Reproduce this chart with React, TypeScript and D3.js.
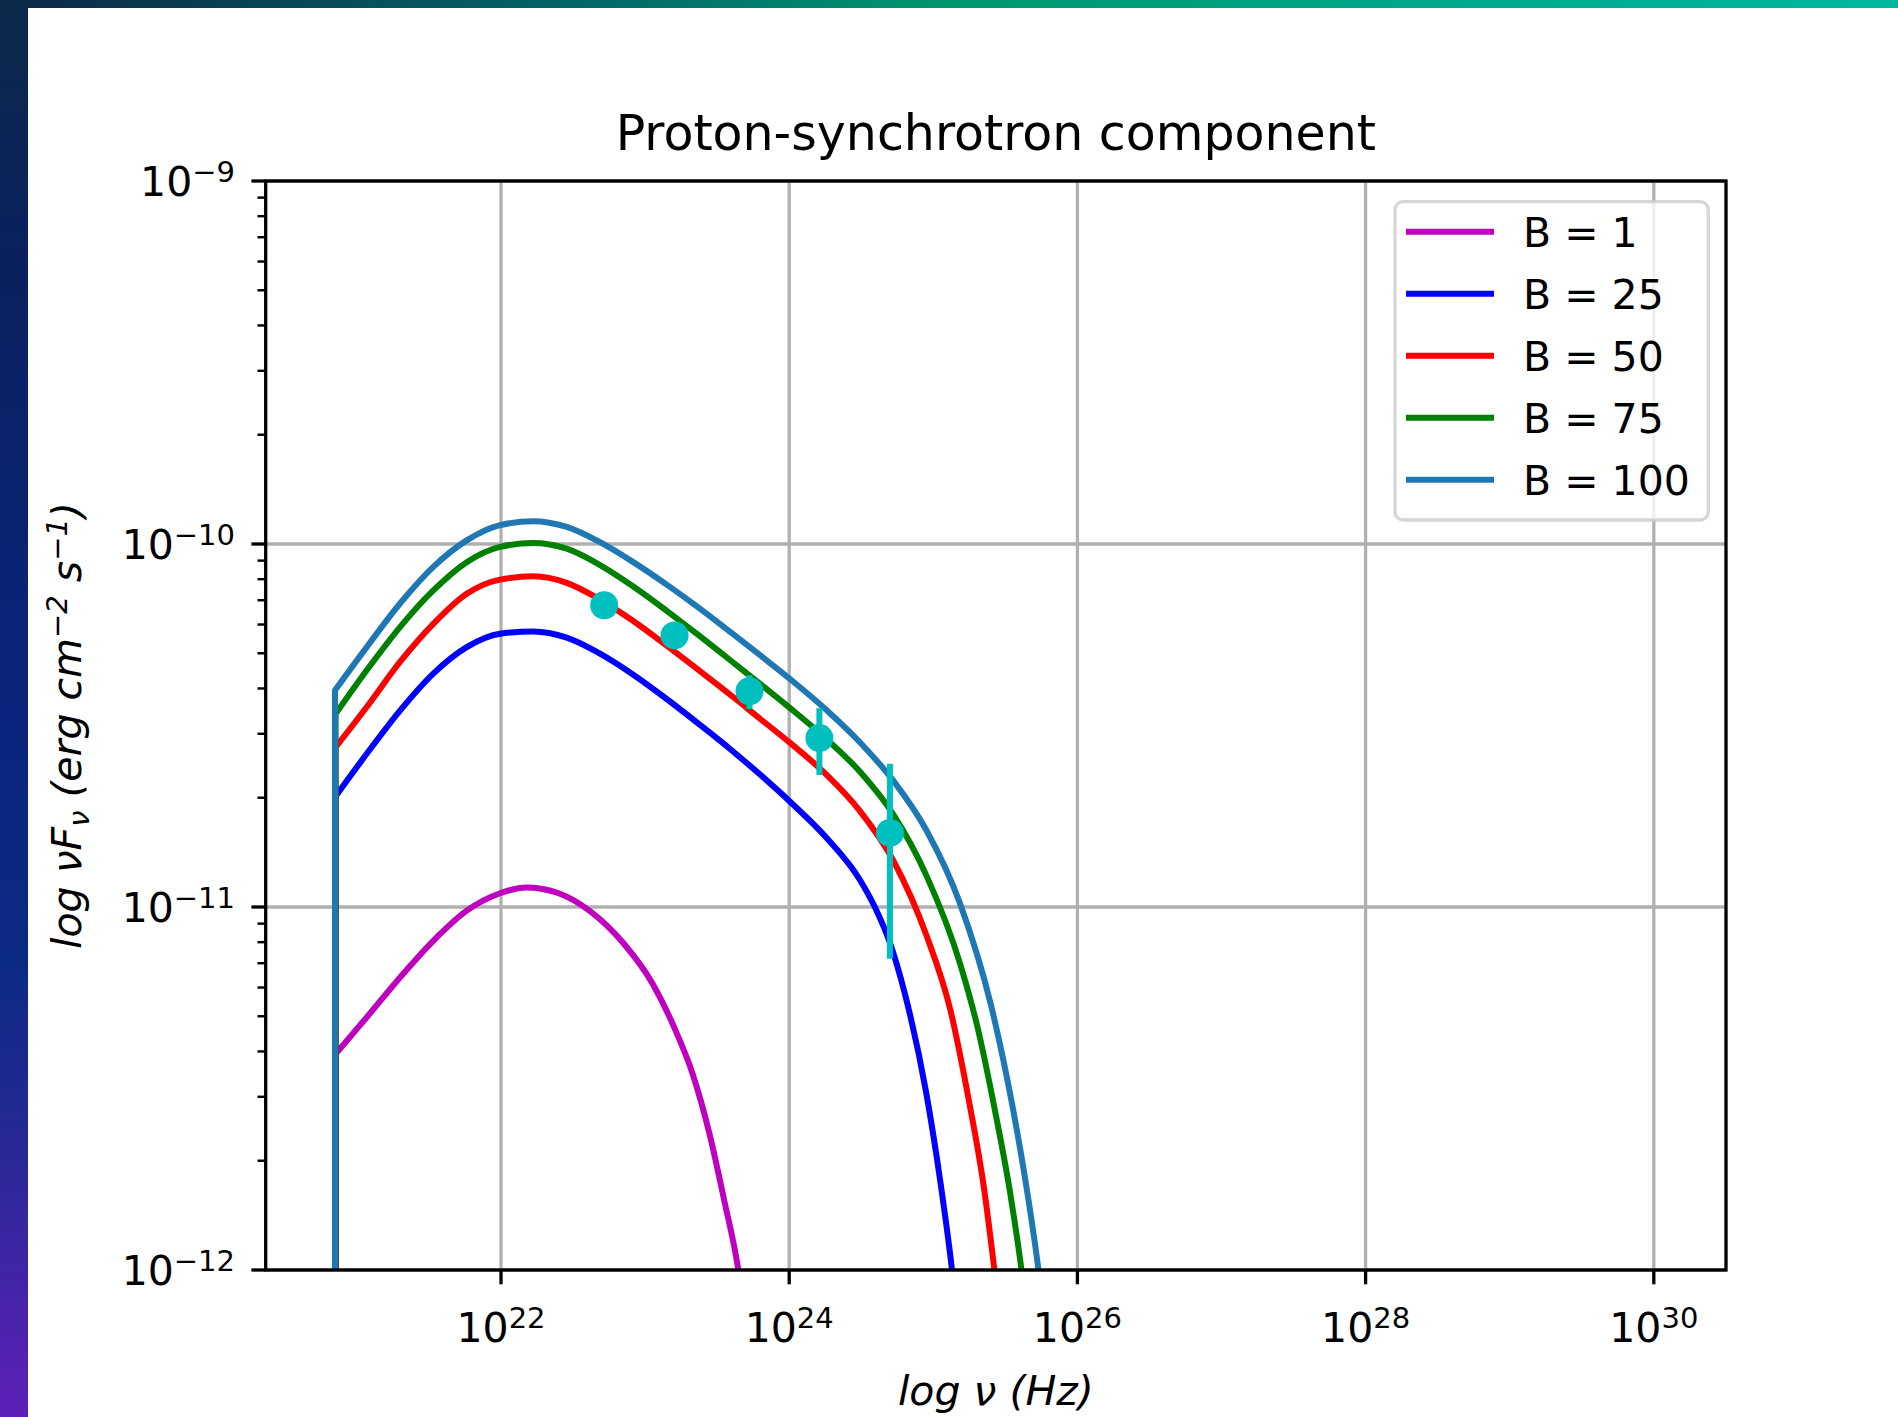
import React from 'react';
import * as d3 from 'd3';

// Canvas and plotting rectangle
const W = 1898;
const H = 1417;
const PLOT = { left: 265.7, right: 1726, top: 181, bottom: 1270 };
const FONT = '"DejaVu Sans", "Liberation Sans", sans-serif';

// Samples of each model spectrum: [log10 nu (Hz), log10 nuF_nu (erg cm^-2 s^-1)]
const curveB1: [number, number][] = [
  [20.852, -11.405], [21.068, -11.304], [21.299, -11.194], [21.53, -11.093], [21.762, -11.01],
  [21.993, -10.962], [22.178, -10.946], [22.4, -10.962], [22.62, -11.012], [22.85, -11.1],
  [23.05, -11.21], [23.2, -11.33], [23.33, -11.46], [23.45, -11.63], [23.55, -11.81],
  [23.647, -12.0], [23.72, -12.22],
];
const curveB25: [number, number][] = [
  [20.852, -10.695], [21.068, -10.578], [21.299, -10.459], [21.53, -10.357], [21.762, -10.284],
  [21.993, -10.247], [22.224, -10.241], [22.456, -10.258], [22.687, -10.302], [22.918, -10.36],
  [23.15, -10.427], [23.38, -10.498], [23.6, -10.568], [23.8, -10.636], [24.006, -10.71],
  [24.26, -10.81], [24.49, -10.925], [24.6, -11.005], [24.7, -11.1], [24.8, -11.235],
  [24.95, -11.51], [25.05, -11.76], [25.13, -12.0], [25.2, -12.26],
];
const curveB50: [number, number][] = [
  [20.852, -10.56], [21.068, -10.449], [21.299, -10.325], [21.53, -10.22], [21.762, -10.137],
  [21.993, -10.098], [22.224, -10.089], [22.456, -10.107], [22.687, -10.153], [22.918, -10.212],
  [23.15, -10.28], [23.38, -10.35], [23.6, -10.418], [23.8, -10.482], [24.006, -10.548],
  [24.26, -10.636], [24.49, -10.735], [24.722, -10.872], [24.954, -11.08], [25.116, -11.28],
  [25.25, -11.54], [25.35, -11.77], [25.424, -12.0], [25.5, -12.27],
];
const curveB75: [number, number][] = [
  [20.852, -10.468], [21.068, -10.348], [21.299, -10.229], [21.53, -10.128], [21.762, -10.05],
  [21.993, -10.008], [22.224, -9.997], [22.456, -10.013], [22.687, -10.058], [22.918, -10.117],
  [23.15, -10.184], [23.38, -10.254], [23.6, -10.323], [23.8, -10.386], [24.006, -10.452],
  [24.209, -10.52], [24.49, -10.627], [24.722, -10.745], [24.954, -10.915], [25.185, -11.155],
  [25.3, -11.32], [25.43, -11.565], [25.53, -11.78], [25.612, -12.0], [25.685, -12.25],
];
const curveB100: [number, number][] = [
  [20.848, -10.403], [21.068, -10.284], [21.299, -10.164], [21.53, -10.063], [21.762, -9.99],
  [21.993, -9.948], [22.224, -9.937], [22.456, -9.953], [22.687, -9.995], [22.918, -10.05],
  [23.15, -10.112], [23.38, -10.178], [23.6, -10.245], [23.8, -10.307], [24.006, -10.372],
  [24.26, -10.458], [24.49, -10.546], [24.722, -10.652], [24.954, -10.79], [25.185, -10.99],
  [25.4, -11.27], [25.55, -11.55], [25.65, -11.78], [25.73, -12.0], [25.8, -12.24],
];

const seriesCurves = [curveB1, curveB25, curveB50, curveB75, curveB100];
const seriesLabels = ['B = 1', 'B = 25', 'B = 50', 'B = 75', 'B = 100'];
const seriesColors = ['#bf00bf', '#0000ff', '#ff0000', '#008000', '#1f77b4'];

// Observed fluxes with symmetric errors
const obsNu = [5.2e22, 1.6e23, 5.3e23, 1.62e24, 5.0e24];
const obsFlux = [6.78e-11, 5.6e-11, 3.93e-11, 2.92e-11, 1.6e-11];
const obsErr = [0.25e-11, 0.3e-11, 0.42e-11, 0.61e-11, 0.88e-11];
const obsColor = '#00bfbf';

const xTickExps = [22, 24, 26, 28, 30];
const yTickExps = [-9, -10, -11, -12];

const x = d3.scaleLog().domain([10 ** 20.367, 10 ** 30.501]).range([PLOT.left, PLOT.right]);
const y = d3.scaleLog().domain([1e-12, 1e-9]).range([PLOT.bottom, PLOT.top]);

const line = d3
  .line<[number, number]>()
  .x((d) => x(10 ** d[0]))
  .y((d) => y(10 ** d[1]))
  .curve(d3.curveMonotoneX);

// Each spectrum rises vertically from below the axis at its first frequency
function spectrumPath(pts: [number, number][]): string {
  const body = line(pts) || '';
  const x0 = x(10 ** pts[0][0]);
  return `M${x0},${y(1e-13)}` + body.replace(/^M/, 'L');
}

const minorY: number[] = [];
for (let e = -12; e < -9; e++) {
  for (let m = 2; m <= 9; m++) minorY.push(m * 10 ** e);
}

const SPINE = 3.3;
const MAJOR_LEN = 14.3;
const MINOR_LEN = 8.2;
const TICK_FS = 41;
const SUP_FS = 29;

export default function App() {
  const midX = (PLOT.left + PLOT.right) / 2;
  const midY = (PLOT.top + PLOT.bottom) / 2;
  const legend = { x: 1395, y: 201.7, w: 313.3, h: 318.3, row: 62, first: 231.7 };

  return (
    <svg
      width={W}
      height={H}
      viewBox={`0 0 ${W} ${H}`}
      style={{ position: 'absolute', left: 0, top: 0, display: 'block', background: '#ffffff' }}
      fontFamily={FONT}
    >
      <defs>
        <linearGradient id="topBand" x1="0" y1="0" x2="1" y2="0">
          <stop offset="0" stopColor="#0b2848" />
          <stop offset="0.3" stopColor="#046468" />
          <stop offset="0.5" stopColor="#00976f" />
          <stop offset="0.72" stopColor="#00a686" />
          <stop offset="1" stopColor="#00b8a2" />
        </linearGradient>
        <linearGradient id="sideBand" x1="0" y1="0" x2="0" y2="1">
          <stop offset="0" stopColor="#0b2a4a" />
          <stop offset="0.18" stopColor="#0a215e" />
          <stop offset="0.45" stopColor="#0a2478" />
          <stop offset="0.68" stopColor="#0b2a84" />
          <stop offset="0.82" stopColor="#2a2898" />
          <stop offset="1" stopColor="#5e20b8" />
        </linearGradient>
        <clipPath id="plotClip">
          <rect x={PLOT.left} y={PLOT.top} width={PLOT.right - PLOT.left} height={PLOT.bottom - PLOT.top} />
        </clipPath>
      </defs>

      <rect x={0} y={0} width={W} height={H} fill="#ffffff" />
      <rect x={0} y={0} width={W} height={8} fill="url(#topBand)" />
      <rect x={0} y={0} width={28} height={H} fill="url(#sideBand)" />

      {/* grid */}
      <g stroke="#b0b0b0" strokeWidth={3.27}>
        {xTickExps.map((e) => (
          <line key={`gx${e}`} x1={x(10 ** e)} x2={x(10 ** e)} y1={PLOT.top} y2={PLOT.bottom} />
        ))}
        {yTickExps.map((e) => (
          <line key={`gy${e}`} x1={PLOT.left} x2={PLOT.right} y1={y(10 ** e)} y2={y(10 ** e)} />
        ))}
      </g>

      {/* model spectra */}
      <g clipPath="url(#plotClip)" fill="none" strokeWidth={6} strokeLinejoin="round">
        {seriesCurves.map((c, i) => (
          <path key={seriesLabels[i]} d={spectrumPath(c)} stroke={seriesColors[i]} />
        ))}
      </g>

      {/* observations */}
      <g>
        {obsNu.map((nu, i) => (
          <line
            key={`err${i}`}
            x1={x(nu)}
            x2={x(nu)}
            y1={y(obsFlux[i] + obsErr[i])}
            y2={y(obsFlux[i] - obsErr[i])}
            stroke={obsColor}
            strokeWidth={6}
          />
        ))}
        {obsNu.map((nu, i) => (
          <circle key={`pt${i}`} cx={x(nu)} cy={y(obsFlux[i])} r={14} fill={obsColor} />
        ))}
      </g>

      {/* spines */}
      <rect
        x={PLOT.left}
        y={PLOT.top}
        width={PLOT.right - PLOT.left}
        height={PLOT.bottom - PLOT.top}
        fill="none"
        stroke="#000"
        strokeWidth={SPINE}
      />

      {/* x ticks */}
      <g>
        {xTickExps.map((e) => {
          const px = x(10 ** e);
          return (
            <g key={`xt${e}`}>
              <line x1={px} x2={px} y1={PLOT.bottom} y2={PLOT.bottom + MAJOR_LEN} stroke="#000" strokeWidth={SPINE} />
              <text x={px} y={1341.5} textAnchor="middle" fontSize={TICK_FS} fill="#000">
                10
                <tspan dy={-14} fontSize={SUP_FS}>
                  {e}
                </tspan>
              </text>
            </g>
          );
        })}
      </g>

      {/* y ticks */}
      <g>
        {minorY.map((v, i) => (
          <line key={`my${i}`} x1={PLOT.left - MINOR_LEN} x2={PLOT.left} y1={y(v)} y2={y(v)} stroke="#000" strokeWidth={2.45} />
        ))}
        {yTickExps.map((e) => {
          const py = y(10 ** e);
          return (
            <g key={`yt${e}`}>
              <line x1={PLOT.left - MAJOR_LEN} x2={PLOT.left} y1={py} y2={py} stroke="#000" strokeWidth={SPINE} />
              <text x={235} y={py + 15} textAnchor="end" fontSize={TICK_FS} fill="#000">
                10
                <tspan dy={-14} fontSize={SUP_FS}>
                  {`\u2212${Math.abs(e)}`}
                </tspan>
              </text>
            </g>
          );
        })}
      </g>

      {/* title and axis labels */}
      <text x={midX} y={150} textAnchor="middle" fontSize={49} fill="#000">
        Proton-synchrotron component
      </text>
      <text x={midX} y={1405} textAnchor="middle" fontSize={41} fontStyle="italic" fill="#000">
        log ν (Hz)
      </text>
      <text
        transform={`translate(81,${midY}) rotate(-90)`}
        textAnchor="middle"
        fontSize={41}
        fontStyle="italic"
        fill="#000"
      >
        log ν
        <tspan>F</tspan>
        <tspan dy={8} fontSize={SUP_FS}>ν</tspan>
        <tspan dy={-8}> (erg cm</tspan>
        <tspan dy={-14} fontSize={SUP_FS}>−2</tspan>
        <tspan dy={14}> s</tspan>
        <tspan dy={-14} fontSize={SUP_FS}>−1</tspan>
        <tspan dy={14}>)</tspan>
      </text>

      {/* legend */}
      <g>
        <rect
          x={legend.x}
          y={legend.y}
          width={legend.w}
          height={legend.h}
          rx={8}
          fill="#ffffff"
          fillOpacity={0.8}
          stroke="#cccccc"
          strokeOpacity={0.8}
          strokeWidth={3.3}
        />
        {seriesLabels.map((lab, i) => {
          const ly = legend.first + i * legend.row;
          return (
            <g key={`lg${lab}`}>
              <line x1={1406} x2={1494} y1={ly} y2={ly} stroke={seriesColors[i]} strokeWidth={6} />
              <text x={1523} y={ly + 15} fontSize={41} fill="#000">
                {lab}
              </text>
            </g>
          );
        })}
      </g>
    </svg>
  );
}
